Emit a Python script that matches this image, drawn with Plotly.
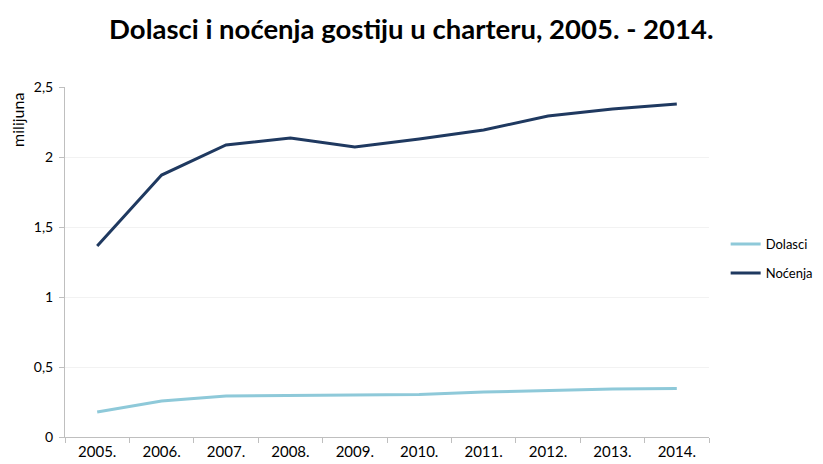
import plotly.graph_objects as go

years = ["2005.", "2006.", "2007.", "2008.", "2009.", "2010.", "2011.", "2012.", "2013.", "2014."]
dolasci = [0.179, 0.257, 0.293, 0.296, 0.296, 0.304, 0.321, 0.332, 0.343, 0.346]
nocenja = [1.364, 1.871, 2.086, 2.136, 2.071, 2.129, 2.193, 2.293, 2.343, 2.379]

FONT = "Lato, Open Sans, sans-serif"

fig = go.Figure()
fig.add_trace(go.Scatter(x=years, y=dolasci, mode="lines", name="Dolasci", legendgroup="d",
                         line=dict(color="#8EC9D9", width=3)))
fig.add_trace(go.Scatter(x=years, y=nocenja, mode="lines", name="Noćenja", legendgroup="n",
                         line=dict(color="#1F3960", width=3)))

fig.update_layout(
    width=823, height=464,
    margin=dict(l=57, r=122, t=79, b=35, autoexpand=False),
    paper_bgcolor="white", plot_bgcolor="white",
    separators=",.",
    font=dict(family=FONT, size=14, color="#000000"),
    title=dict(text="<b>Dolasci i noćenja gostiju u charteru, 2005. - 2014.</b>",
               x=0.49, xref="container", xanchor="center", y=0.953, yanchor="middle",
               font=dict(family=FONT, size=27.5, color="#000000")),
    showlegend=True,
    legend=dict(x=0.872, y=0.46, xref="container", yref="container",
                xanchor="left", yanchor="middle",
                font=dict(family=FONT, size=13), tracegroupgap=9,
                bgcolor="rgba(0,0,0,0)"),
    xaxis=dict(type="category", showgrid=False, showline=True, linecolor="#BFBFBF",
               linewidth=1, ticks="outside", tickson="boundaries", ticklen=5,
               tickcolor="#BFBFBF", tickfont=dict(size=15), range=[-0.5, 9.5],
               ticklabelstandoff=1, automargin=False),
    yaxis=dict(range=[0, 2.5], dtick=0.5, showgrid=True, gridcolor="#F2F2F2",
               showline=True, linecolor="#BFBFBF", linewidth=1, ticks="outside",
               ticklen=5, tickcolor="#BFBFBF", tickfont=dict(size=14),
               zeroline=False, ticklabelstandoff=3, automargin=False),
    annotations=[dict(text="milijuna", x=-0.073, y=0.906, xref="paper", yref="paper",
                      xanchor="center", yanchor="middle",
                      showarrow=False, textangle=-90, font=dict(family=FONT, size=16))]
)

fig.write_html("out.html")
